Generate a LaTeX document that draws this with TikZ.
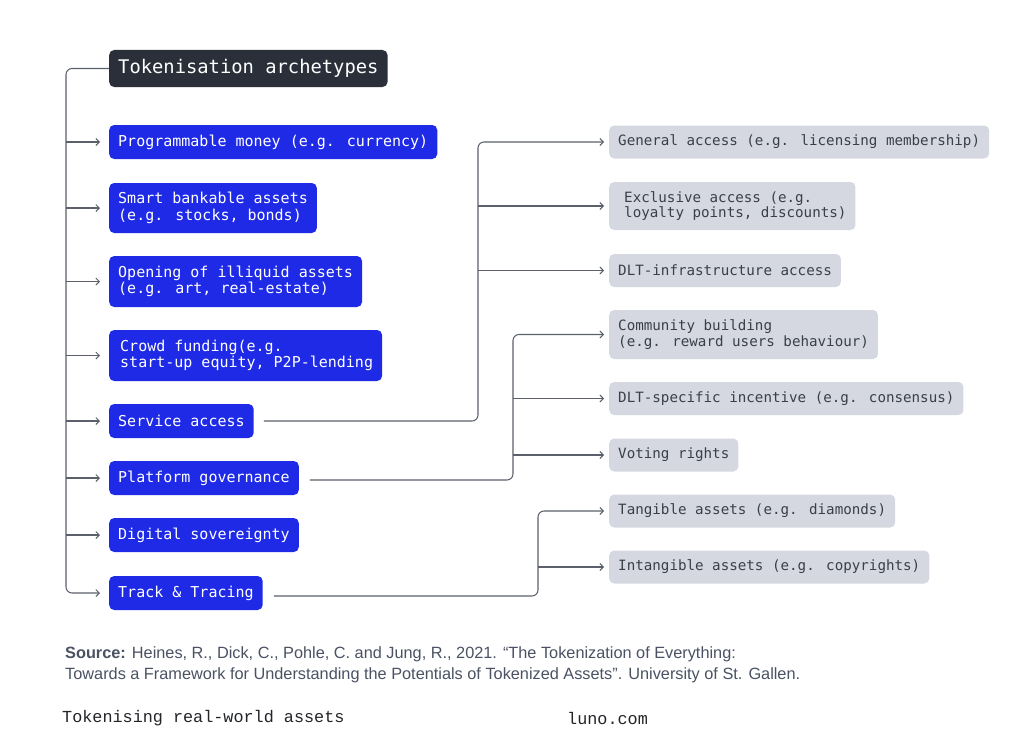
\documentclass[tikz,border=0pt]{standalone}
\usepackage{fontspec}
\setmainfont{Liberation Sans}
\newfontfamily\boxmono{DejaVu Sans Mono}
\newfontfamily\footmono{Liberation Mono}
\usetikzlibrary{arrows.meta,calc}
\definecolor{bluebox}{RGB}{30,42,230}
\definecolor{darkbox}{RGB}{42,47,58}
\definecolor{graybox}{RGB}{213,216,224}
\definecolor{graytext}{RGB}{58,63,74}
\definecolor{linecol}{RGB}{91,96,107}
\definecolor{srctext}{RGB}{74,82,99}
\definecolor{foottext}{RGB}{34,36,40}
\tikzset{
  leftbox/.style={anchor=west, fill=bluebox, text=white, rounded corners=5pt,
    inner xsep=9pt, inner ysep=0pt, minimum height=34pt, align=left,
    font=\boxmono\fontsize{15}{16.5}\selectfont},
  titlebox/.style={anchor=west, fill=darkbox, text=white, rounded corners=5pt,
    inner xsep=9pt, inner ysep=0pt, minimum height=37pt,
    font=\boxmono\fontsize{18.8}{22}\selectfont},
  rightbox/.style={anchor=west, fill=graybox, text=graytext, rounded corners=5pt,
    inner xsep=9pt, inner ysep=0pt, minimum height=33pt, align=left,
    font=\boxmono\fontsize{14.2}{15.5}\selectfont},
  conn/.style={draw=linecol, line width=1.05pt, rounded corners=6pt},
  arr/.style={conn, -{Straight Barb[length=3.5pt,width=7pt,line width=0.9pt]}},
}
\begin{document}
\begin{tikzpicture}[x=1pt,y=-1pt]
\useasboundingbox (0,0) rectangle (1024,752);
\fill[white] (0,0) rectangle (1024,752);

% title
\node[titlebox] (title) at (109,68.5) {Tokenisation archetypes};

% left column
\node[leftbox] (pm) at (109,142) {Programmable money (e.g. currency)};
\node[leftbox, minimum height=50pt] (sb) at (109,208) {Smart bankable assets\\(e.g. stocks, bonds)};
\node[leftbox, minimum height=51pt] (oi) at (109,281.5) {Opening of illiquid assets\\(e.g. art, real-estate)};
\node[leftbox, minimum height=51pt] (cf) at (109,355.5) {\hspace{2pt}Crowd funding(e.g.\\\hspace{2pt}start-up equity, P2P-lending};
\node[leftbox] (sa) at (109,421) {Service access};
\node[leftbox] (pg) at (109,478) {Platform governance};
\node[leftbox] (ds) at (109,535) {Digital sovereignty};
\node[leftbox] (tt) at (109,593) {Track \& Tracing};

% right column
\node[rightbox] (ga) at (609,142) {General access (e.g. licensing membership)};
\node[rightbox, minimum height=48pt] (ea) at (609,206) {\hspace{6pt}Exclusive access (e.g.\\\hspace{6pt}loyalty points, discounts)};
\node[rightbox] (da) at (609,270.5) {DLT-infrastructure access};
\node[rightbox, minimum height=49pt] (cb) at (609,334.5) {Community building\\(e.g. reward users behaviour)};
\node[rightbox] (di) at (609,398.5) {DLT-specific incentive (e.g. consensus)};
\node[rightbox] (vr) at (609,455) {Voting rights};
\node[rightbox] (ta) at (609,511) {Tangible assets (e.g. diamonds)};
\node[rightbox] (ia) at (609,567) {Intangible assets (e.g. copyrights)};

% trunk
\coordinate (tx) at (66,0);
\draw[arr] (title.west) -| (tx |- tt.west) -- ([xshift=-9pt]tt.west);
\foreach \n in {pm,sb,oi,cf,sa,pg,ds}{
  \draw[arr] (tx |- \n.west) -- ([xshift=-9pt]\n.west);
}

% service access branch
\coordinate (sx) at (478,0);
\draw[arr] ([xshift=10pt]sa.east) -| (sx |- ga.west) -- ([xshift=-5pt]ga.west);
\draw[arr] (sx |- ea.west) -- ([xshift=-5pt]ea.west);
\draw[arr] (sx |- da.west) -- ([xshift=-5pt]da.west);

% platform governance branch
\coordinate (px) at (513,0);
\draw[arr] ([xshift=11pt,yshift=-2pt]pg.east) -| (px |- cb.west) -- ([xshift=-5pt]cb.west);
\draw[arr] (px |- di.west) -- ([xshift=-5pt]di.west);
\draw[arr] (px |- vr.west) -- ([xshift=-5pt]vr.west);

% track & tracing branch
\coordinate (qx) at (538,0);
\draw[arr] ([xshift=11pt,yshift=-3pt]tt.east) -| (qx |- ta.west) -- ([xshift=-5pt]ta.west);
\draw[arr] (qx |- ia.west) -- ([xshift=-5pt]ia.west);

% source
\node[anchor=west, text=srctext, align=left, font=\fontsize{16.3}{21}\selectfont, inner sep=0pt] (src) at (65,665)
  {\textbf{Source:} Heines, R., Dick, C., Pohle, C. and Jung, R., 2021. “The Tokenization of Everything:\\
   Towards a Framework for Understanding the Potentials of Tokenized Assets”. University of St. Gallen.};

% footer
\node[anchor=west, text=foottext, font=\footmono\fontsize{16.8}{18}\selectfont, inner sep=0pt] (f1) at (62,718) {Tokenising real-world assets};
\node[anchor=west, text=foottext, font=\footmono\fontsize{16.8}{18}\selectfont, inner sep=0pt] (f2) at (567,718) {luno.com};
\end{tikzpicture}
\end{document}
